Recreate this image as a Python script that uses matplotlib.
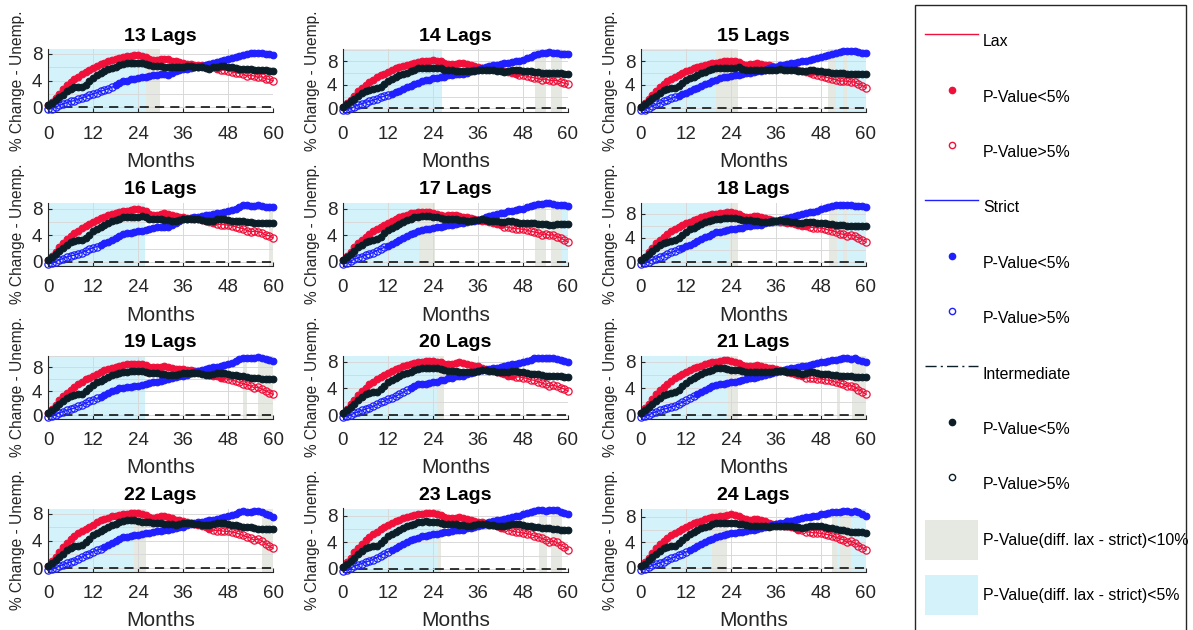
import numpy as np
import matplotlib
matplotlib.use('Agg')
import matplotlib.pyplot as plt
from matplotlib.lines import Line2D
from matplotlib.patches import Patch, Rectangle
from matplotlib.ticker import FixedLocator

plt.rcParams['font.family'] = ['Liberation Sans', 'DejaVu Sans']

# ---------------- data ----------------
MONTHS = list(range(61))
LAGS = [13, 14, 15, 16, 17, 18, 19, 20, 21, 22, 23, 24]

LAX_13 = [0.3,0.8,1.4,2.0,2.7,3.3,3.8,4.2,4.6,5.0,5.3,5.6,5.9,6.2,6.5,6.7,6.9,7.1,7.3,7.4,7.6,7.7,7.7,7.8,7.8,7.7,7.5,7.2,7.1,7.1,7.2,7.3,7.2,7.0,6.9,6.8,6.6,6.5,6.5,6.4,6.4,6.3,6.3,6.2,6.0,5.8,5.6,5.6,5.5,5.3,5.2,5.1,5.0,4.7,4.8,4.7,4.5,4.6,4.3,4.2,4.0]
INTER_13 = [0.3,0.7,1.1,1.5,1.9,2.4,2.8,3.0,3.1,3.1,3.4,3.9,4.4,4.8,5.1,5.4,5.7,5.9,6.1,6.3,6.5,6.6,6.6,6.6,6.6,6.6,6.5,6.3,6.2,6.2,6.2,6.1,6.1,6.0,6.0,6.1,6.1,6.2,6.2,6.1,6.1,6.0,5.9,5.8,6.0,6.1,6.2,6.2,6.1,6.0,5.9,5.8,5.8,5.7,5.7,5.6,5.6,5.6,5.6,5.5,5.5]
STRICT_13 = [-0.3,-0.2,0.0,0.3,0.5,0.7,0.9,1.0,1.2,1.4,1.6,1.8,2.0,2.2,2.4,2.6,2.8,3.0,3.3,3.6,3.9,4.0,4.2,4.3,4.4,4.5,4.6,4.7,4.8,4.9,5.0,5.0,4.9,5.2,5.4,5.6,5.7,5.8,5.9,6.0,6.1,6.2,6.4,6.5,6.6,6.8,7.0,7.1,7.3,7.4,7.6,7.7,7.8,8.0,8.1,8.2,8.2,8.1,8.0,8.0,7.9]

LAX_14 = [0.3,0.9,1.5,2.2,2.9,3.5,4.0,4.5,4.9,5.3,5.6,5.9,6.2,6.5,6.8,7.0,7.2,7.4,7.6,7.8,7.9,8.0,8.1,8.1,8.2,8.1,8.0,7.7,7.5,7.5,7.6,7.7,7.7,7.5,7.3,7.2,7.1,6.9,6.8,6.7,6.7,6.6,6.5,6.3,6.2,6.0,5.8,5.7,5.6,5.5,5.3,5.2,5.1,4.9,5.0,4.8,4.7,4.8,4.5,4.3,4.1]
INTER_14 = [0.3,0.7,1.2,1.6,2.1,2.6,3.0,3.2,3.3,3.4,3.7,4.2,4.7,5.0,5.3,5.6,5.9,6.1,6.4,6.6,6.8,6.9,6.9,6.9,6.9,6.9,6.8,6.6,6.5,6.5,6.4,6.4,6.3,6.3,6.3,6.4,6.5,6.6,6.6,6.5,6.5,6.4,6.3,6.2,6.4,6.5,6.5,6.5,6.4,6.3,6.3,6.2,6.2,6.1,6.1,6.0,6.0,6.0,6.0,5.9,5.9]
STRICT_14 = [-0.3,-0.2,0.0,0.3,0.6,0.8,1.0,1.2,1.4,1.6,1.9,2.1,2.3,2.5,2.8,3.0,3.3,3.6,3.9,4.2,4.4,4.6,4.8,4.9,5.1,5.2,5.3,5.4,5.6,5.7,5.8,5.8,5.8,6.0,6.3,6.5,6.6,6.8,7.0,7.2,7.3,7.4,7.6,7.7,7.8,7.9,8.0,8.1,8.3,8.5,8.8,9.1,9.3,9.5,9.5,9.6,9.5,9.4,9.3,9.3,9.2]

LAX_15 = [0.3,0.9,1.6,2.3,3.0,3.6,4.1,4.6,5.0,5.4,5.7,6.0,6.3,6.6,6.8,7.0,7.2,7.4,7.6,7.7,7.8,7.9,8.0,8.0,8.0,8.0,7.9,7.6,7.4,7.5,7.6,7.7,7.6,7.4,7.3,7.2,7.1,7.0,6.9,6.8,6.8,6.7,6.6,6.4,6.2,6.0,5.8,5.6,5.5,5.3,5.2,5.0,4.9,4.6,4.7,4.6,4.5,4.5,4.1,3.9,3.5]
INTER_15 = [0.3,0.7,1.2,1.7,2.2,2.7,3.1,3.3,3.4,3.5,3.8,4.3,4.8,5.1,5.4,5.7,6.0,6.2,6.5,6.7,6.8,6.9,6.9,6.9,6.9,6.9,7.0,6.7,6.6,6.6,6.6,6.6,6.5,6.5,6.5,6.6,6.6,6.7,6.6,6.6,6.5,6.5,6.4,6.3,6.4,6.5,6.5,6.4,6.3,6.2,6.2,6.1,6.1,6.0,6.0,5.9,5.9,5.9,5.9,5.8,5.8]
STRICT_15 = [-0.3,-0.2,0.1,0.4,0.7,0.9,1.2,1.4,1.7,1.9,2.2,2.5,2.7,3.0,3.3,3.5,3.8,4.1,4.4,4.7,4.9,5.1,5.3,5.4,5.5,5.6,5.7,5.8,6.0,6.1,6.2,6.3,6.4,6.6,6.8,7.0,7.1,7.3,7.4,7.6,7.7,7.8,7.9,8.0,8.1,8.3,8.4,8.5,8.7,8.9,9.1,9.3,9.5,9.6,9.7,9.7,9.7,9.7,9.6,9.5,9.4]

LAX_16 = [0.3,0.9,1.5,2.2,2.8,3.4,3.9,4.3,4.7,5.1,5.4,5.7,6.0,6.3,6.6,6.8,7.0,7.2,7.4,7.5,7.6,7.7,7.8,7.9,7.9,7.8,7.6,7.2,7.0,7.1,7.2,7.3,7.2,7.0,6.9,6.8,6.7,6.6,6.6,6.5,6.4,6.3,6.2,6.0,5.8,5.7,5.6,5.6,5.5,5.4,5.3,5.1,5.0,4.7,4.5,4.6,4.5,4.4,4.0,3.9,3.6]
INTER_16 = [0.3,0.7,1.2,1.6,2.1,2.6,3.0,3.2,3.3,3.3,3.6,4.1,4.6,5.0,5.3,5.6,5.9,6.1,6.3,6.5,6.7,6.8,6.8,6.8,6.8,6.9,6.8,6.5,6.4,6.4,6.4,6.3,6.3,6.2,6.2,6.3,6.4,6.5,6.5,6.5,6.4,6.3,6.2,6.1,6.2,6.4,6.4,6.4,6.3,6.2,6.2,6.1,6.1,6.0,6.0,5.9,5.9,5.8,5.9,5.9,5.8]
STRICT_16 = [-0.3,-0.2,0.0,0.3,0.5,0.7,0.9,1.0,1.2,1.4,1.6,1.9,2.1,2.3,2.5,2.8,3.0,3.3,3.6,3.9,4.2,4.3,4.4,4.5,4.6,4.7,4.8,4.9,5.1,5.2,5.3,5.3,5.3,5.6,5.9,6.2,6.4,6.5,6.6,6.7,6.8,6.9,7.0,7.1,7.2,7.3,7.4,7.5,7.6,7.8,8.0,8.3,8.5,8.5,8.4,8.4,8.5,8.4,8.3,8.3,8.2]

LAX_17 = [0.3,0.9,1.5,2.2,2.8,3.3,3.8,4.2,4.6,5.0,5.3,5.6,5.9,6.2,6.5,6.7,6.9,7.1,7.3,7.4,7.5,7.5,7.5,7.5,7.4,7.2,7.0,6.9,7.0,7.1,7.0,6.9,6.8,6.7,6.6,6.4,6.3,6.2,6.1,6.0,5.9,5.7,5.5,5.3,5.2,5.1,5.0,5.0,4.9,4.8,4.6,4.5,4.4,4.1,4.2,4.0,4.1,3.8,3.6,3.3,3.0]
INTER_17 = [0.3,0.7,1.2,1.7,2.2,2.6,3.0,3.2,3.3,3.4,3.8,4.3,4.8,5.1,5.4,5.7,6.0,6.3,6.5,6.7,6.8,6.9,6.9,6.9,6.8,6.7,6.6,6.5,6.5,6.5,6.4,6.3,6.3,6.2,6.2,6.3,6.3,6.4,6.3,6.2,6.2,6.1,6.0,6.0,6.1,6.1,6.0,5.9,5.8,5.8,5.8,5.8,5.7,5.7,5.7,5.6,5.6,5.7,5.7,5.7,5.7]
STRICT_17 = [-0.3,-0.2,0.1,0.4,0.6,0.8,1.0,1.2,1.4,1.7,1.9,2.2,2.4,2.7,3.0,3.3,3.6,3.9,4.2,4.4,4.6,4.8,4.9,5.0,5.1,5.2,5.3,5.4,5.5,5.6,5.7,5.8,5.8,6.0,6.1,6.2,6.3,6.5,6.7,6.9,7.0,7.2,7.3,7.4,7.6,7.7,7.8,7.9,8.0,8.2,8.4,8.6,8.7,8.7,8.8,8.8,8.7,8.6,8.5,8.5,8.4]

LAX_18 = [0.3,0.9,1.6,2.4,3.1,3.7,4.2,4.7,5.1,5.5,5.8,6.1,6.4,6.7,7.0,7.2,7.4,7.6,7.8,7.9,8.0,8.1,8.1,8.2,8.2,8.1,8.0,7.7,7.5,7.5,7.6,7.6,7.5,7.3,7.1,6.9,6.8,6.7,6.6,6.5,6.4,6.3,6.2,6.0,5.9,5.8,5.7,5.7,5.6,5.5,5.3,5.2,5.0,4.7,4.6,4.4,4.5,4.3,4.0,3.7,3.3]
INTER_18 = [0.3,0.8,1.3,1.8,2.3,2.8,3.2,3.4,3.5,3.6,4.0,4.5,5.0,5.4,5.7,6.0,6.3,6.6,6.8,7.0,7.1,7.2,7.3,7.3,7.3,7.3,7.2,7.0,6.9,6.9,6.8,6.8,6.7,6.7,6.7,6.8,6.8,6.9,6.8,6.8,6.7,6.6,6.5,6.5,6.6,6.7,6.6,6.5,6.5,6.4,6.3,6.3,6.2,6.1,6.1,6.0,6.0,5.9,6.0,5.9,5.9]
STRICT_18 = [-0.3,-0.2,0.1,0.4,0.6,0.9,1.1,1.3,1.6,1.8,2.1,2.4,2.6,2.9,3.2,3.5,3.8,4.1,4.4,4.6,4.9,5.0,5.2,5.3,5.4,5.5,5.6,5.7,5.9,6.0,6.1,6.2,6.2,6.4,6.6,6.7,6.8,7.0,7.2,7.3,7.5,7.6,7.8,7.9,8.1,8.2,8.3,8.5,8.7,8.9,9.1,9.3,9.4,9.4,9.4,9.4,9.4,9.3,9.2,9.2,9.1]

LAX_19 = [0.3,1.0,1.7,2.5,3.2,3.8,4.3,4.8,5.2,5.6,6.0,6.3,6.6,6.9,7.2,7.5,7.7,7.9,8.1,8.3,8.4,8.5,8.6,8.6,8.6,8.5,8.4,8.1,8.0,8.0,8.1,8.2,8.1,7.9,7.8,7.7,7.7,7.6,7.5,7.4,7.3,7.1,7.0,6.8,6.6,6.5,6.3,6.2,6.0,5.9,5.7,5.5,5.3,5.1,4.9,4.6,4.7,4.4,4.1,3.8,3.5]
INTER_19 = [0.3,0.8,1.3,1.8,2.3,2.8,3.2,3.4,3.5,3.6,4.0,4.6,5.1,5.5,5.8,6.1,6.4,6.7,6.9,7.1,7.2,7.3,7.4,7.4,7.4,7.4,7.3,7.1,7.0,7.0,6.9,6.9,6.8,6.8,6.8,6.9,7.0,7.1,7.1,7.0,7.0,6.9,6.8,6.8,6.9,7.0,7.0,7.0,6.9,6.8,6.7,6.6,6.5,6.4,6.3,6.2,6.2,6.1,6.1,6.1,6.0]
STRICT_19 = [-0.3,-0.2,0.1,0.4,0.6,0.8,1.0,1.2,1.5,1.7,2.0,2.3,2.6,2.8,3.1,3.4,3.7,4.0,4.3,4.5,4.6,4.7,4.8,4.9,4.9,5.0,5.2,5.4,5.5,5.6,5.8,5.9,6.0,6.2,6.4,6.5,6.6,6.8,7.0,7.2,7.4,7.6,7.8,7.9,8.0,8.1,8.3,8.4,8.6,8.8,9.1,9.4,9.6,9.6,9.5,9.6,9.7,9.6,9.4,9.2,9.0]

LAX_20 = [0.3,0.9,1.6,2.3,3.0,3.6,4.1,4.6,5.0,5.4,5.7,6.0,6.3,6.6,6.9,7.1,7.3,7.5,7.7,7.8,7.9,8.0,8.1,8.1,8.1,8.0,7.9,7.7,7.6,7.7,7.8,7.9,7.8,7.6,7.5,7.4,7.3,7.1,6.9,6.8,6.7,6.5,6.3,6.1,5.9,5.8,5.7,5.7,5.6,5.5,5.3,5.2,5.0,4.8,4.6,4.3,4.5,4.3,4.1,3.9,3.6]
INTER_20 = [0.3,0.7,1.2,1.7,2.2,2.7,3.1,3.3,3.4,3.5,3.9,4.4,4.9,5.2,5.5,5.8,6.1,6.3,6.5,6.7,6.9,7.0,7.0,7.0,7.0,7.0,6.9,6.7,6.6,6.6,6.6,6.5,6.5,6.4,6.4,6.5,6.6,6.7,6.7,6.6,6.6,6.5,6.5,6.4,6.5,6.6,6.6,6.5,6.4,6.3,6.2,6.1,6.1,6.0,5.9,5.9,5.8,5.8,5.8,5.7,5.7]
STRICT_20 = [-0.3,-0.2,0.0,0.3,0.5,0.7,0.9,1.1,1.3,1.6,1.9,2.1,2.4,2.6,2.8,3.1,3.4,3.7,4.1,4.4,4.6,4.6,4.7,4.8,4.9,5.0,5.2,5.3,5.5,5.6,5.8,5.8,5.9,6.1,6.3,6.5,6.6,6.7,6.8,6.9,7.0,7.1,7.2,7.3,7.5,7.6,7.7,7.8,7.9,8.1,8.3,8.5,8.6,8.6,8.5,8.6,8.5,8.4,8.2,8.1,8.0]

LAX_21 = [0.3,1.0,1.7,2.4,3.1,3.7,4.2,4.7,5.1,5.5,5.8,6.1,6.4,6.7,7.0,7.2,7.4,7.6,7.8,7.9,8.0,8.1,8.2,8.2,8.1,8.0,7.8,7.5,7.3,7.3,7.4,7.5,7.4,7.2,7.1,7.0,6.9,6.7,6.6,6.4,6.3,6.1,6.0,5.8,5.6,5.5,5.5,5.4,5.4,5.3,5.2,5.1,4.9,4.8,4.6,4.3,4.4,4.2,3.8,3.5,3.1]
INTER_21 = [0.3,0.7,1.2,1.6,2.1,2.6,3.0,3.2,3.3,3.4,3.8,4.3,4.8,5.2,5.5,5.8,6.1,6.4,6.6,6.8,7.0,7.1,7.1,6.9,6.7,6.8,6.8,6.6,6.5,6.5,6.5,6.4,6.4,6.4,6.4,6.5,6.6,6.6,6.6,6.5,6.5,6.4,6.3,6.2,6.3,6.4,6.4,6.3,6.2,6.1,6.1,6.0,6.0,5.9,5.9,5.8,5.8,5.7,5.7,5.7,5.7]
STRICT_21 = [-0.3,-0.2,0.0,0.3,0.5,0.7,0.9,1.0,1.2,1.4,1.7,1.9,2.2,2.5,2.8,3.1,3.4,3.7,4.0,4.3,4.5,4.6,4.7,4.8,4.9,5.0,5.1,5.2,5.4,5.5,5.6,5.7,5.8,6.0,6.2,6.3,6.4,6.6,6.7,6.9,7.0,7.1,7.2,7.3,7.4,7.5,7.6,7.8,7.9,8.0,8.1,8.2,8.3,8.4,8.5,8.5,8.4,8.5,8.3,8.1,8.0]

LAX_22 = [0.3,1.0,1.7,2.4,3.1,3.7,4.2,4.7,5.1,5.5,5.8,6.1,6.4,6.7,7.0,7.2,7.4,7.6,7.7,7.8,7.9,8.0,8.1,8.1,8.1,8.0,7.8,7.5,7.4,7.5,7.6,7.7,7.5,7.3,7.1,7.0,6.9,6.8,6.6,6.5,6.4,6.2,6.0,5.8,5.6,5.5,5.5,5.4,5.4,5.3,5.2,5.0,4.8,4.6,4.4,4.1,4.3,4.0,3.6,3.2,2.9]
INTER_22 = [0.3,0.7,1.2,1.6,2.1,2.6,3.0,3.2,3.3,3.4,3.8,4.3,4.8,5.1,5.4,5.7,6.0,6.3,6.5,6.7,6.9,7.0,7.1,7.0,6.9,6.8,6.8,6.7,6.6,6.6,6.6,6.5,6.5,6.5,6.4,6.5,6.6,6.6,6.6,6.5,6.5,6.4,6.4,6.4,6.5,6.6,6.6,6.6,6.5,6.4,6.3,6.2,6.1,6.0,6.0,5.9,5.8,5.8,5.8,5.7,5.7]
STRICT_22 = [-0.3,-0.2,0.0,0.3,0.5,0.7,0.9,1.1,1.3,1.6,1.9,2.1,2.4,2.6,2.8,3.1,3.4,3.7,4.0,4.3,4.5,4.6,4.7,4.8,4.9,5.0,5.1,5.2,5.3,5.4,5.5,5.6,5.6,5.8,5.9,6.0,6.1,6.3,6.5,6.6,6.7,6.8,6.9,7.0,7.1,7.2,7.3,7.5,7.6,7.8,8.0,8.2,8.4,8.3,8.3,8.4,8.4,8.3,8.0,7.8,7.5]

LAX_23 = [0.3,1.0,1.7,2.5,3.2,3.8,4.3,4.8,5.2,5.6,6.0,6.3,6.6,6.9,7.2,7.4,7.6,7.8,8.0,8.1,8.2,8.3,8.4,8.4,8.4,8.3,8.1,7.8,7.6,7.6,7.7,7.8,7.7,7.5,7.3,7.2,7.1,7.0,6.9,6.7,6.6,6.4,6.2,6.1,5.9,5.7,5.6,5.5,5.4,5.3,5.2,5.0,4.8,4.6,4.4,4.0,4.2,4.0,3.6,3.3,2.9]
INTER_23 = [0.3,0.7,1.2,1.7,2.2,2.7,3.1,3.3,3.4,3.5,3.9,4.4,4.9,5.3,5.6,5.9,6.2,6.4,6.6,6.8,7.0,7.1,7.2,7.1,7.0,7.0,6.9,6.8,6.7,6.7,6.7,6.6,6.6,6.5,6.5,6.6,6.7,6.7,6.7,6.6,6.6,6.5,6.5,6.5,6.6,6.7,6.7,6.7,6.6,6.5,6.4,6.3,6.3,6.2,6.1,6.1,6.0,6.0,5.9,5.9,5.9]
STRICT_23 = [-0.3,-0.2,0.1,0.4,0.6,0.8,1.0,1.2,1.4,1.7,2.0,2.3,2.6,2.8,3.1,3.4,3.7,4.0,4.3,4.5,4.7,4.9,5.0,5.1,5.2,5.3,5.4,5.5,5.6,5.7,5.8,5.9,5.9,6.1,6.2,6.3,6.4,6.6,6.8,7.0,7.2,7.3,7.4,7.5,7.7,7.8,7.9,8.0,8.2,8.4,8.6,8.7,8.8,8.8,8.7,8.8,8.9,8.8,8.6,8.4,8.2]

LAX_24 = [0.3,0.9,1.6,2.4,3.1,3.7,4.2,4.7,5.1,5.5,5.8,6.1,6.4,6.7,7.0,7.2,7.4,7.6,7.8,7.9,8.0,8.1,8.2,8.3,8.4,8.3,8.1,7.8,7.6,7.5,7.6,7.7,7.5,7.3,7.1,6.9,6.8,6.7,6.6,6.5,6.4,6.2,6.0,5.9,5.7,5.6,5.5,5.5,5.4,5.3,5.2,5.0,4.8,4.6,4.4,4.0,4.2,3.9,3.5,3.2,2.8]
INTER_24 = [0.3,0.7,1.2,1.7,2.2,2.7,3.1,3.3,3.4,3.5,3.9,4.4,4.9,5.3,5.6,5.9,6.2,6.4,6.6,6.8,7.0,7.1,7.1,7.1,7.1,7.0,6.9,6.8,6.7,6.6,6.6,6.5,6.5,6.5,6.4,6.5,6.5,6.5,6.5,6.5,6.5,6.4,6.4,6.3,6.4,6.5,6.5,6.5,6.5,6.4,6.3,6.2,6.1,6.0,5.9,5.8,5.7,5.7,5.6,5.6,5.5]
STRICT_24 = [-0.3,-0.2,0.1,0.4,0.6,0.8,1.0,1.2,1.5,1.7,2.0,2.2,2.5,2.8,3.1,3.4,3.7,4.0,4.3,4.6,4.8,5.0,5.2,5.3,5.4,5.5,5.6,5.7,5.8,5.9,6.0,6.1,6.2,6.4,6.5,6.7,6.8,7.0,7.1,7.3,7.4,7.5,7.7,7.8,7.9,8.0,8.1,8.2,8.4,8.5,8.6,8.7,8.8,8.8,8.9,8.9,8.8,8.9,8.7,8.4,8.1]

# first month where Lax p-value > 5% (open markers from here on)
LAX_OPEN_FROM = [46, 47, 46, 45, 43, 45, 47, 46, 44, 44, 43, 43]
# first month where Strict p-value < 5% (filled markers from here on)
STRICT_FILLED_FROM = [18, 13, 10, 14, 12, 11, 14, 18, 15, 15, 13, 13]

# month intervals where p-value(diff lax - strict) < 5% and < 10%
SHADE_05 = [[(0, 26.1)], [(0, 26.3)], [(0, 20), (52, 54), (55, 60)], [(0, 25.9)],
            [(0, 20.2), (58.4, 60)], [(0, 23.7), (52.3, 54), (55, 60)], [(0, 25.9)],
            [(0, 25)], [(0, 23.2)], [(0, 23)], [(0, 25.2)], [(0, 19), (52.3, 53), (56, 60)]]
SHADE_10 = [[(26.1, 29.9)], [(51.2, 54.1), (55.4, 58.4)], [(20, 25.9), (49.9, 52), (54, 55)],
            [(59, 60)], [(20.2, 24.4), (51.2, 54.1), (55.4, 58.4)],
            [(23.7, 25.9), (50.1, 52.3), (54, 55)], [(52, 53), (56, 60)], [(25, 27)],
            [(23.2, 25.9), (52.3, 53), (56.3, 60)], [(23, 26), (57, 60)],
            [(25.2, 26.2), (52.3, 54.4), (55.4, 58.4)], [(19, 23), (51, 52.3), (53, 56)]]

YLIM_LO = [-0.7, -0.6, -0.6, -0.55, -0.55, -0.55, -0.55, -0.5, -0.5, -0.5, -0.4, -0.55]
YLIM_HI = [8.75, 10.1, 10.1, 8.9, 8.95, 9.85, 10.0, 8.9, 8.9, 8.75, 9.1, 9.3]

XTICKS = [0, 12, 24, 36, 48, 60]
YTICKS = [0, 4, 8]

LAX = {13: LAX_13, 14: LAX_14, 15: LAX_15, 16: LAX_16, 17: LAX_17, 18: LAX_18,
       19: LAX_19, 20: LAX_20, 21: LAX_21, 22: LAX_22, 23: LAX_23, 24: LAX_24}
STRICT = {13: STRICT_13, 14: STRICT_14, 15: STRICT_15, 16: STRICT_16, 17: STRICT_17, 18: STRICT_18,
          19: STRICT_19, 20: STRICT_20, 21: STRICT_21, 22: STRICT_22, 23: STRICT_23, 24: STRICT_24}
INTER = {13: INTER_13, 14: INTER_14, 15: INTER_15, 16: INTER_16, 17: INTER_17, 18: INTER_18,
         19: INTER_19, 20: INTER_20, 21: INTER_21, 22: INTER_22, 23: INTER_23, 24: INTER_24}

# ---------------- style ----------------
RED = '#F0103A'
BLUE = '#1F1FFF'
DARK = '#0B1E28'
CYAN = '#D3F2FA'
GRAY = '#E6E8E2'
AXC = '#262626'

W, H = 1193, 630
fig = plt.figure(figsize=(W / 100, H / 100), dpi=100)

COL_LEFT = [48, 343, 641]
ROW_TOP = [49, 202.5, 355.5, 508.5]
AW, AH = 225, 63


def draw_series(ax, x, y, mask, color, z):
    x = np.asarray(x)
    y = np.asarray(y)
    ax.plot(x, y, color=color, lw=1.0, zorder=z, clip_on=False)
    ax.plot(x[mask], y[mask], 'o', ls='none', ms=4.8, mfc=color, mec=color, mew=0.8,
            zorder=z + 0.1, clip_on=False)
    ax.plot(x[~mask], y[~mask], 'o', ls='none', ms=5.2, mfc='none', mec=color, mew=0.9,
            zorder=z + 0.1, clip_on=False)


x = np.array(MONTHS)
for i, lag in enumerate(LAGS):
    r, c = divmod(i, 3)
    ax = fig.add_axes([COL_LEFT[c] / W, 1 - (ROW_TOP[r] + AH) / H, AW / W, AH / H])
    for a, b in SHADE_10[i]:
        ax.axvspan(a, b, color=GRAY, lw=0, zorder=0)
    for a, b in SHADE_05[i]:
        ax.axvspan(a, b, color=CYAN, lw=0, zorder=0)
    ax.axhline(0, color='black', ls=(0, (6, 4)), lw=1.1, zorder=1.5)

    lax_mask = x < LAX_OPEN_FROM[i]
    strict_mask = x >= STRICT_FILLED_FROM[i]
    inter_mask = np.ones_like(x, dtype=bool)
    draw_series(ax, x, LAX[lag], lax_mask, RED, 2)
    draw_series(ax, x, STRICT[lag], strict_mask, BLUE, 3)
    draw_series(ax, x, INTER[lag], inter_mask, DARK, 4)

    ax.set_xlim(0, 60)
    ax.set_ylim(YLIM_LO[i], YLIM_HI[i])
    ax.set_xticks(XTICKS)
    ax.set_yticks(YTICKS)
    ax.yaxis.set_minor_locator(FixedLocator([2, 6, 10]))
    ax.set_axisbelow(True)
    ax.xaxis.grid(True, which='major', color='#D9D9D9', lw=0.7)
    ax.yaxis.grid(True, which='both', color='#D9D9D9', lw=0.7)
    ax.tick_params(which='major', direction='in', length=3, width=0.8, colors=AXC,
                   labelsize=13.5)
    ax.tick_params(axis='x', which='major', pad=10)
    ax.tick_params(axis='y', which='major', pad=4)
    ax.tick_params(which='minor', length=0)
    for s in ['top', 'right']:
        ax.spines[s].set_visible(False)
    for s in ['left', 'bottom']:
        ax.spines[s].set_color(AXC)
        ax.spines[s].set_linewidth(0.8)
    ax.set_title(f'{lag} Lags', fontsize=14, fontweight='bold', pad=6)
    ax.set_xlabel('Months', fontsize=15, color=AXC)
    ax.xaxis.set_label_coords(0.5, -(152 - 112) / AH)
    ax.set_ylabel('% Change - Unemp.', fontsize=11.2, color=AXC)
    ax.yaxis.set_label_coords(-23 / AW, 0.5)

# ---------------- legend ----------------
handles = [
    Line2D([], [], color=RED, lw=1.0),
    Line2D([], [], ls='none', marker='o', ms=4.5, mfc=RED, mec=RED),
    Line2D([], [], ls='none', marker='o', ms=4.5, mfc='white', mec=RED, mew=1.0),
    Line2D([], [], color=BLUE, lw=1.0),
    Line2D([], [], ls='none', marker='o', ms=4.5, mfc=BLUE, mec=BLUE),
    Line2D([], [], ls='none', marker='o', ms=4.5, mfc='white', mec=BLUE, mew=1.0),
    Line2D([], [], color=DARK, lw=1.0, ls=(0, (8, 3, 1.5, 3))),
    Line2D([], [], ls='none', marker='o', ms=4.5, mfc=DARK, mec=DARK),
    Line2D([], [], ls='none', marker='o', ms=4.5, mfc='white', mec=DARK, mew=1.0),
    Patch(facecolor=GRAY, edgecolor='none'),
    Patch(facecolor=CYAN, edgecolor='none'),
]
labels = ['Lax', 'P-Value<5%', 'P-Value>5%', 'Strict', 'P-Value<5%', 'P-Value>5%',
          'Intermediate', 'P-Value<5%', 'P-Value>5%',
          'P-Value(diff. lax - strict)<10%', 'P-Value(diff. lax - strict)<5%']
LEG_FS = 11.4
fig.legend(handles, labels, loc='upper left', bbox_to_anchor=(925 / W, 1 - 22 / H),
           frameon=False, fontsize=LEG_FS, handleheight=40 / LEG_FS, handlelength=3.35,
           handletextpad=0.31, labelspacing=0.97, borderpad=0, borderaxespad=0)
fig.add_artist(Rectangle((915 / W, -0.05), (1186 - 915) / W, 1.05 - 5 / H,
                         transform=fig.transFigure, fill=False, edgecolor=AXC, lw=1.0))

fig.savefig('out.png', dpi=100, facecolor='white')
